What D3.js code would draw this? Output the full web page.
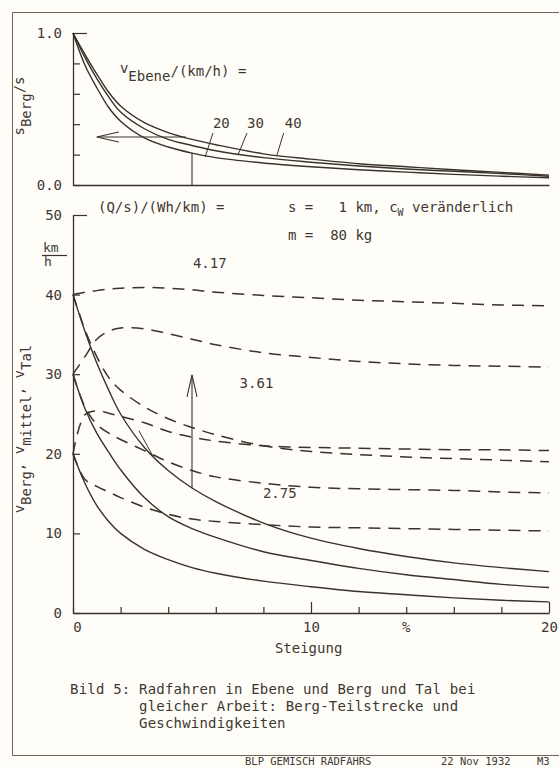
<!DOCTYPE html>
<html>
<head>
<meta charset="utf-8">
<script src="https://cdn.jsdelivr.net/npm/d3@7"></script>
<style>
  html, body { margin: 0; padding: 0; background: #fefdf8; }
  svg { display: block; }
  text { font-family: "DejaVu Sans Mono", monospace; fill: #3f3832; }
</style>
</head>
<body>
<svg id="chart" width="559" height="768"></svg>
<script>
// Steigung in %
const steigung = [0, 0.5, 1, 1.5, 2, 3, 4, 5, 6, 8, 10, 12, 14, 16, 18, 20];

// oben: s_Berg/s fuer v_Ebene = 20, 30, 40 km/h
const ebeneLabels = ["20", "30", "40"];
const sBerg20 = [1.0, 0.79, 0.64, 0.51, 0.42, 0.31, 0.25, 0.21, 0.18, 0.145, 0.12, 0.10, 0.085, 0.07, 0.058, 0.048];
const sBerg30 = [1.0, 0.84, 0.70, 0.58, 0.48, 0.37, 0.30, 0.26, 0.225, 0.18, 0.15, 0.125, 0.105, 0.09, 0.075, 0.058];
const sBerg40 = [1.0, 0.86, 0.73, 0.61, 0.52, 0.41, 0.345, 0.30, 0.265, 0.205, 0.17, 0.14, 0.12, 0.10, 0.083, 0.065];

// unten: v_Berg (durchgezogen), v_Tal und v_mittel (gestrichelt) in km/h
const vBerg40 = [40, 35.4, 31.4, 28.0, 25.0, 20.8, 17.9, 15.7, 14.0, 11.3, 9.4, 8.1, 7.1, 6.3, 5.7, 5.2];
const vBerg30 = [30, 25.7, 22.6, 20.2, 18.0, 14.5, 12.1, 10.6, 9.5, 7.7, 6.6, 5.6, 4.8, 4.2, 3.6, 3.2];
const vBerg20 = [20, 16.3, 13.5, 11.5, 10.0, 8.0, 6.7, 5.7, 5.0, 4.0, 3.3, 2.7, 2.3, 1.9, 1.6, 1.4];
const vTal40 = [40, 40.3, 40.5, 40.7, 40.8, 40.9, 40.8, 40.6, 40.3, 39.9, 39.6, 39.3, 39.1, 38.9, 38.7, 38.6];
const vTal30 = [30, 32.2, 34.4, 35.4, 35.8, 35.7, 35.1, 34.4, 33.7, 32.7, 32.1, 31.6, 31.3, 31.1, 31.0, 30.9];
const vTal20 = [20, 24.9, 25.4, 25.1, 24.7, 23.9, 22.8, 22.1, 21.6, 21.0, 20.8, 20.7, 20.6, 20.5, 20.5, 20.4];
const vMittel40 = [40, 35.6, 32.2, 29.6, 28.0, 25.9, 24.4, 23.3, 22.4, 21.0, 20.3, 19.9, 19.6, 19.4, 19.2, 19.0];
const vMittel30 = [30, 25.9, 23.7, 22.6, 21.8, 20.4, 19.0, 17.9, 17.1, 16.3, 15.8, 15.6, 15.5, 15.4, 15.2, 15.1];
const vMittel20 = [20, 16.8, 15.9, 15.2, 14.5, 13.3, 12.4, 11.8, 11.5, 11.1, 10.8, 10.7, 10.6, 10.5, 10.4, 10.3];

// (Q/s)/(Wh/km)
const arbeitLabels = ["4.17", "3.61", "2.75"];

const xTicks = [0, 2, 4, 6, 8, 10, 12, 14, 16, 18, 20];
const topTicks = [0, 0.2, 0.4, 0.6, 0.8, 1.0];
const botTicks = [0, 10, 20, 30, 40, 50];

const ink = "#3a322b";
const svg = d3.select("#chart");

const x = d3.scaleLinear().domain([0, 20]).range([73, 549]);
const yTop = d3.scaleLinear().domain([0, 1]).range([185, 33]);
const yBot = d3.scaleLinear().domain([0, 50]).range([613, 215]);

// Rahmen
svg.append("path")
    .attr("d", "M559,12.5H12.5V755.5H559")
    .attr("fill", "none")
    .attr("stroke", "#6b625a")
    .attr("stroke-width", 1);

function styleAxis(g) {
    g.attr("color", ink)
     .attr("font-family", null)
     .attr("font-size", null);
    g.selectAll("text").style("font-size", "14px");
    g.select(".domain").attr("stroke-width", 1.3);
    g.selectAll(".tick line").attr("stroke-width", 1.2);
}

// oberes Diagramm: Achsen
svg.append("g")
    .attr("transform", `translate(${x(0)},0)`)
    .call(d3.axisLeft(yTop).tickValues(topTicks).tickSize(-7).tickSizeOuter(0).tickPadding(11)
        .tickFormat(d => (d === 0 || d === 1) ? d3.format(".1f")(d) : ""))
    .call(styleAxis)
    .call(g => g.selectAll(".tick").filter(d => d === 1).select("line").attr("x2", 14));

svg.append("g")
    .attr("transform", `translate(0,${yTop(0)})`)
    .call(d3.axisBottom(x).tickValues([]).tickSizeOuter(0))
    .call(styleAxis);

// unteres Diagramm: Achsen
svg.append("g")
    .attr("transform", `translate(${x(0)},0)`)
    .call(d3.axisLeft(yBot).tickValues(botTicks).tickSize(-7).tickSizeOuter(0).tickPadding(11))
    .call(styleAxis)
    .call(g => g.selectAll(".tick").filter(d => d === 50).select("line").attr("x2", 14));

svg.append("g")
    .attr("transform", `translate(0,${yBot(0)})`)
    .call(d3.axisBottom(x).tickValues(xTicks).tickSize(-6).tickSizeOuter(0).tickPadding(9)
        .tickFormat(d => d % 10 === 0 ? d : ""))
    .call(styleAxis)
    .call(g => g.selectAll(".tick").filter(d => d % 10 === 0 && d > 0).select("line").attr("y2", -11))
    .call(g => g.selectAll(".tick").filter(d => d === 0).select("text").attr("dx", 4));

svg.append("text")
    .attr("x", x(14)).attr("y", 632)
    .attr("text-anchor", "middle")
    .style("font-size", "14px")
    .text("%");

svg.append("text")
    .attr("x", x(9.9)).attr("y", 653)
    .attr("text-anchor", "middle")
    .style("font-size", "14px")
    .text("Steigung");

// Achsentitel
const t1 = svg.append("text")
    .attr("transform", "translate(24,106) rotate(-90)")
    .attr("text-anchor", "middle")
    .style("font-size", "14px");
t1.append("tspan").text("s");
t1.append("tspan").attr("dy", 7).text("Berg");
t1.append("tspan").attr("dy", -7).text("/s");

const t2 = svg.append("text")
    .attr("transform", "translate(24,429) rotate(-90)")
    .attr("text-anchor", "middle")
    .style("font-size", "14px");
[["v", "Berg", ", "], ["v", "mittel", ", "], ["v", "Tal", ""]].forEach(p => {
    t2.append("tspan").text(p[0]);
    t2.append("tspan").attr("dy", 7).text(p[1]);
    t2.append("tspan").attr("dy", -7).text(p[2]);
});

svg.append("text").attr("x", 43).attr("y", 252).style("font-size", "13px").text("km");
svg.append("line")
    .attr("x1", 42).attr("x2", 67).attr("y1", 255.5).attr("y2", 255.5)
    .attr("stroke", ink).attr("stroke-width", 1.2);
svg.append("text").attr("x", 44).attr("y", 266).style("font-size", "13px").text("h");

// Kurven
const smooth = d3.curveCatmullRom.alpha(0.5);
const lineTop = d3.line().x((d, i) => x(steigung[i])).y(d => yTop(d)).curve(smooth);
const lineBot = d3.line().x((d, i) => x(steigung[i])).y(d => yBot(d)).curve(smooth);

svg.append("g")
    .attr("fill", "none").attr("stroke", ink).attr("stroke-width", 1.4)
  .selectAll("path")
    .data([sBerg20, sBerg30, sBerg40])
    .join("path")
      .attr("d", lineTop);

svg.append("g")
    .attr("fill", "none").attr("stroke", ink).attr("stroke-width", 1.4)
  .selectAll("path")
    .data([vBerg40, vBerg30, vBerg20])
    .join("path")
      .attr("d", lineBot);

svg.append("g")
    .attr("fill", "none").attr("stroke", ink).attr("stroke-width", 1.5)
    .attr("stroke-dasharray", "12,8")
  .selectAll("path")
    .data([vTal40, vTal30, vTal20, vMittel40, vMittel30, vMittel20])
    .join("path")
      .attr("d", lineBot);

// Beschriftungen oben
const te = svg.append("text").style("font-size", "14px");
te.append("tspan").attr("x", x(1.97)).attr("y", 73).text("v");
te.append("tspan").attr("y", 81).text("Ebene");
te.append("tspan").attr("y", 76).text("/(km/h) =");

const ebeneX = [5.88, 7.31, 8.9];
const leaderTop = [[5.88, 0.342, 5.55, 0.184], [7.31, 0.342, 6.93, 0.197], [8.85, 0.342, 8.57, 0.197]];
ebeneLabels.forEach((l, i) => {
    svg.append("text").attr("x", x(ebeneX[i])).attr("y", yTop(0.375)).style("font-size", "14px").text(l);
    const p = leaderTop[i];
    svg.append("line")
        .attr("x1", x(p[0])).attr("y1", yTop(p[1]))
        .attr("x2", x(p[2])).attr("y2", yTop(p[3]))
        .attr("stroke", ink).attr("stroke-width", 1);
});

// Ablese-Pfeil oben
svg.append("line")
    .attr("x1", x(5)).attr("x2", x(5)).attr("y1", yTop(0)).attr("y2", yTop(0.21))
    .attr("stroke", ink).attr("stroke-width", 1.1);
svg.append("line")
    .attr("x1", x(4.75)).attr("x2", x(1)).attr("y1", yTop(0.316)).attr("y2", yTop(0.316))
    .attr("stroke", ink).attr("stroke-width", 1.1);
const ta = [x(1), yTop(0.316)];
svg.append("path")
    .attr("d", `M${ta[0] + 22},${ta[1] - 5}L${ta[0]},${ta[1]}L${ta[0] + 22},${ta[1] + 5}`)
    .attr("fill", "none").attr("stroke", ink).attr("stroke-width", 1.1);

// Beschriftungen zwischen den Diagrammen
svg.append("text").attr("x", 98).attr("y", 212).style("font-size", "14px").text("(Q/s)/(Wh/km) =");
const ts = svg.append("text").attr("x", 288).attr("y", 212).style("font-size", "14px")
    .attr("xml:space", "preserve");
ts.append("tspan").text("s =   1 km, c");
ts.append("tspan").attr("dy", 4).style("font-size", "10px").text("W");
ts.append("tspan").attr("dy", -4).text(" veränderlich");
svg.append("text").attr("x", 288).attr("y", 240).style("font-size", "14px")
    .attr("xml:space", "preserve").text("m =  80 kg");

// Beschriftungen unten
const arbeitPos = [[5.04, 43.3], [7.0, 28.3], [7.98, 14.4]];
arbeitLabels.forEach((l, i) => {
    svg.append("text")
        .attr("x", x(arbeitPos[i][0])).attr("y", yBot(arbeitPos[i][1]))
        .style("font-size", "14px").text(l);
});

svg.append("line")
    .attr("x1", x(5)).attr("x2", x(5)).attr("y1", yBot(15.7)).attr("y2", yBot(29.9))
    .attr("stroke", ink).attr("stroke-width", 1.1);
const tb = [x(5), yBot(29.9)];
svg.append("path")
    .attr("d", `M${tb[0] - 5},${tb[1] + 22}L${tb[0]},${tb[1]}L${tb[0] + 5},${tb[1] + 22}`)
    .attr("fill", "none").attr("stroke", ink).attr("stroke-width", 1.1);

svg.append("line")
    .attr("x1", x(2.77)).attr("y1", yBot(22.9)).attr("x2", x(3.36)).attr("y2", yBot(19.7))
    .attr("stroke", ink).attr("stroke-width", 1);

// Bildunterschrift
const caption = [
    [70, 694, "Bild 5: Radfahren in Ebene und Berg und Tal bei"],
    [139, 711, "gleicher Arbeit: Berg-Teilstrecke und"],
    [139, 728, "Geschwindigkeiten"]
];
caption.forEach(c => {
    svg.append("text").attr("x", c[0]).attr("y", c[1])
        .style("font-size", "14px").style("letter-spacing", "0.2px").text(c[2]);
});

svg.append("text").attr("x", 245).attr("y", 765).style("font-size", "10.5px").text("BLP GEMISCH RADFAHRS");
svg.append("text").attr("x", 441).attr("y", 765).style("font-size", "10.5px").text("22 Nov 1932");
svg.append("text").attr("x", 537).attr("y", 765).style("font-size", "10.5px").text("M3");
</script>
</body>
</html>
